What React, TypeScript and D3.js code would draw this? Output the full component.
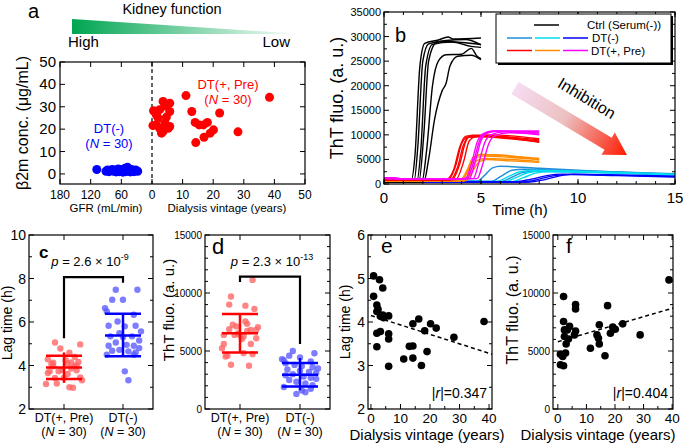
import React, { useEffect, useRef } from 'react';
import * as d3 from 'd3';

const FONT = '"Liberation Sans", Arial, Helvetica, sans-serif';

// ---- panel a: beta2m vs GFR / dialysis vintage
const gfrNeg = [108, 90, 87, 84, 81, 78, 75, 72, 70, 68, 66, 64, 62, 60, 58, 57, 55, 53, 52, 50, 48, 47, 45, 43, 42, 40, 38, 35, 32, 28];
const b2mNeg = [2.0, 1.2, 1.8, 1.0, 1.5, 2.0, 1.2, 1.7, 0.9, 1.5, 2.2, 1.0, 1.7, 1.3, 2.0, 0.8, 1.5, 2.5, 1.0, 1.8, 3.0, 1.2, 2.2, 1.6, 0.9, 2.0, 1.4, 1.0, 1.8, 1.2];
const vintagePre = [0.5, 0.3, 2, 2.5, 3.6, 4.2, 5.8, 5.8, 3.1, 2.5, 1.4, 5.8, 4.7, 4.2, 11.1, 13, 14.1, 14.3, 15.4, 16.8, 18.1, 17, 19, 20.1, 22.1, 28.1, 38.4, 1.4, 5.3, 3.6];
const b2mPre = [28.2, 21.6, 25, 28.7, 32.4, 30.4, 31.6, 27.9, 18.2, 20.4, 21.9, 21.2, 25.4, 22.7, 35, 27.9, 23, 14, 21.9, 21.9, 23, 16.4, 18.2, 19.7, 27.2, 18.8, 34.2, 26.4, 20.4, 18.9];
const gfrTicks = [180, 120, 60];
const vinTicksA = [0, 10, 20, 30, 40, 50];
const b2mTicks = [0, 10, 20, 30, 40, 50];

// ---- panel b: ThT kinetics, [time h, fluo]
const ctrlCurves = [
  [[0, 700], [1.4, 700], [1.6, 6000], [1.85, 24000], [2.1, 28600], [2.8, 29300], [3.3, 29900], [3.6, 29500], [5, 29700]],
  [[0, 600], [1.55, 600], [1.75, 8000], [2.0, 25000], [2.3, 28500], [3.0, 29000], [4.0, 28800], [5, 28400]],
  [[0, 600], [1.7, 600], [1.9, 7000], [2.15, 24000], [2.5, 28400], [3.5, 28900], [4.5, 28000], [5, 27800]],
  [[0, 500], [1.8, 500], [2.05, 10000], [2.3, 25000], [2.7, 28800], [3.2, 29200], [4.2, 29400], [5, 28300]],
  [[0, 400], [1.95, 400], [2.2, 7000], [2.5, 20000], [2.8, 25000], [3.2, 26300], [4, 26400], [4.5, 27600], [4.8, 26000], [5, 25500]],
  [[0, 400], [2.05, 400], [2.3, 5000], [2.6, 13000], [3.0, 19000], [3.2, 20500], [3.4, 24000], [3.8, 26000], [4.5, 26200], [5, 25300]],
];
const redCurves = [
  [[0, 900], [3.2, 900], [3.6, 3000], [3.9, 7500], [4.2, 9700], [4.6, 9900], [6, 9700], [8, 9000]],
  [[0, 800], [3.4, 800], [3.8, 3500], [4.1, 8000], [4.4, 9600], [5, 9800], [6.5, 9400], [8, 8500]],
  [[0, 850], [3.5, 850], [3.9, 4000], [4.2, 8500], [4.5, 9900], [5.5, 10000], [8, 9200]],
  [[0, 900], [3.7, 900], [4.1, 4500], [4.4, 8800], [4.8, 9700], [6, 9500], [8, 8800]],
  [[0, 800], [3.3, 800], [3.7, 3800], [4.0, 8200], [4.3, 9500], [5, 9600], [6.5, 9200], [8, 8600]],
];
const orangeCurves = [
  [[0, 700], [3.9, 700], [4.3, 3000], [4.6, 5500], [5, 6000], [6, 5800], [8, 5200]],
  [[0, 650], [4.0, 650], [4.4, 3200], [4.7, 5200], [5.1, 5700], [6.5, 5400], [8, 5000]],
  [[0, 600], [4.1, 600], [4.5, 3000], [4.8, 4800], [5.2, 5200], [6.5, 5000], [8, 4600]],
  [[0, 650], [4.2, 650], [4.6, 2800], [4.9, 4500], [5.3, 5000], [6.5, 4700], [8, 4400]],
  [[0, 700], [4.0, 700], [4.4, 3500], [4.7, 5600], [5, 6000], [6, 5900], [8, 4900]],
];
const magentaCurves = [
  [[0, 1300], [0.5, 1300], [1, 1000], [3, 1000], [4.2, 1100], [4.5, 4000], [4.8, 8500], [5.1, 10200], [5.6, 10800], [8, 10600]],
  [[0, 1200], [0.5, 1250], [1, 1000], [3, 950], [4.4, 1100], [4.7, 4500], [5.0, 8800], [5.3, 10300], [5.8, 10700], [8, 10400]],
  [[0, 1100], [1, 1000], [3, 950], [4.6, 1100], [4.9, 4500], [5.2, 8500], [5.5, 10000], [6.2, 10600], [8, 10000]],
  [[0, 1150], [1, 1000], [3, 1000], [4.8, 1100], [5.1, 4200], [5.4, 8200], [5.7, 9800], [6.4, 10400], [8, 10200]],
  [[0, 1250], [1, 1050], [3, 1000], [4.3, 1200], [4.6, 4200], [4.9, 8500], [5.2, 10200], [5.7, 10800], [8, 10800]],
];
const steelCurves = [
  [[0, 600], [4.8, 600], [5.2, 1800], [5.6, 3300], [6, 3600], [8, 3200], [11, 2600], [15, 2000]],
  [[0, 500], [5.5, 500], [6.0, 1500], [6.6, 2800], [7.2, 3000], [10, 2700], [15, 2100]],
  [[0, 500], [6, 500], [6.6, 1400], [7.2, 2400], [8, 2600], [11, 2400], [15, 1900]],
];
const cyanCurves = [
  [[0, 500], [5.8, 500], [6.4, 1500], [7, 2500], [7.8, 2800], [10, 2600], [15, 2000]],
  [[0, 450], [6.2, 450], [6.8, 1300], [7.4, 2300], [8.2, 2700], [11, 2400], [15, 1900]],
  [[0, 450], [6.5, 450], [7.2, 1300], [7.8, 2200], [8.5, 2500], [12, 2200], [15, 1800]],
];
const blueCurves = [
  [[0, 450], [6.8, 450], [7.6, 1000], [8.4, 1700], [9.2, 2000], [12, 1800], [15, 1500]],
  [[0, 400], [7.2, 400], [8.0, 1000], [8.8, 1700], [9.6, 1900], [12, 1700], [15, 1400]],
  [[0, 400], [7.5, 400], [8.3, 900], [9.0, 1600], [9.8, 2000], [12.5, 1800], [15, 1600]],
];
const timeTicks = [0, 5, 10, 15];
const thtTicksB = [0, 5000, 10000, 15000, 20000, 25000, 30000, 35000];

// ---- panels c-f
const groups = ['DT(+, Pre)', 'DT(-)'];
const lagYears = [0.9, 0.9, 2.9, 4.0, 2.0, 2.4, 2.0, 3.2, 4.0, 6.0, 2.0, 3.2, 6.0, 6.0, 2.0, 6.0, 11.1, 13.0, 14.2, 14.2, 14.2, 16.2, 17.1, 18.2, 19.0, 20.2, 22.1, 28.1, 38.3, 4.3];
const lagPre = [5.06, 4.59, 4.97, 4.78, 4.39, 4.29, 4.24, 4.13, 4.16, 4.14, 3.74, 3.78, 3.73, 3.61, 3.43, 2.98, 3.15, 3.44, 3.45, 3.17, 3.96, 4.07, 3.0, 3.8, 3.32, 3.96, 3.86, 3.65, 4.01, 4.1];
const lagNeg = [7.48, 7.48, 7.02, 7.02, 6.64, 6.48, 6.33, 5.83, 6.02, 5.8, 5.83, 5.57, 5.34, 5.31, 5.34, 5.15, 5.06, 4.91, 4.95, 4.91, 4.8, 4.68, 4.72, 4.65, 4.6, 4.5, 4.5, 3.73, 3.32, 5.49];
const thtYears = [2, 2, 2.3, 4.1, 3.3, 2.9, 3.7, 6.2, 6.2, 6.2, 5.8, 0.9, 1.7, 2.7, 0.9, 2, 11.4, 13.7, 14.2, 14.5, 14.5, 16.5, 17.4, 18.4, 19.2, 20.1, 22.7, 28.8, 38.9, 2.3];
const thtPre = [9700, 7540, 6820, 7120, 6820, 5600, 6030, 9000, 8630, 6730, 6390, 4730, 4530, 4820, 3810, 3730, 5240, 6390, 6100, 7260, 5600, 4590, 8910, 6530, 7060, 6880, 7340, 6390, 11130, 6250];
const thtNeg = [5000, 4800, 4600, 4450, 4300, 4200, 4100, 3950, 3800, 3700, 3600, 3500, 3400, 3300, 3200, 3100, 3000, 2900, 2800, 2700, 2600, 2500, 2350, 2200, 2050, 1900, 1750, 1600, 1450, 1300];
// horizontal scatter, fraction of half width
const jitterPre = [-0.5, 0.3, 0.9, -0.2, 0.6, -0.9, 0.1, -0.6, 0.8, 0.4, -0.3, 0.7, -0.8, 0.2, -0.5, 0.5, -1.0, 0.0, 0.9, -0.4, 0.6, -0.7, 0.3, -0.1, 1.0, -0.6, 0.4, -0.9, 0.7, 0.2];
const jitterNeg = [-0.4, 0.8, -0.6, 0.0, -1.0, -0.9, 0.6, -0.8, -0.3, 0.1, 0.7, 1.0, -0.7, 0.0, 0.5, 0.9, -0.4, -0.8, 0.2, 0.6, 0.9, -0.6, -0.2, 0.3, 0.7, -0.9, 0.6, 0.1, 0.3, -0.2];
// [mean - SD, mean, mean + SD], whisker [low, high]
const lagBars = [[3.38, 3.91, 4.45], [4.42, 5.38, 6.38]];
const lagWhisk = [[3.2, 4.6], [4.42, 6.38]];
const thtBars = [[4880, 6540, 8200], [1950, 2950, 3960]];
const thtWhisk = [[4880, 8200], [1610, 4390]];
const lagFit = [[0, 4.15], [41, 3.26]];
const thtFit = [[0, 5800], [40.3, 8700]];
const vinTicks = [0, 10, 20, 30, 40];
const lagTicksC = [2, 4, 6, 8, 10];
const lagTicksE = [2, 3, 4, 5, 6];
const thtTicks = [0, 5000, 10000, 15000];

const RED = '#ff0000';
const BLUE = '#0000ff';

type Box = { l: number; r: number; t: number; b: number };

function frame(g: any, box: Box, xt: number[], yt: number[], xm: number[] = [], ym: number[] = [], L = 5, M = 3) {
  g.append('rect')
    .attr('x', box.l).attr('y', box.t)
    .attr('width', box.r - box.l).attr('height', box.b - box.t)
    .attr('fill', 'none').attr('stroke', '#000').attr('stroke-width', 1.2);
  const tick = (x1: number, y1: number, x2: number, y2: number) =>
    g.append('line').attr('x1', x1).attr('y1', y1).attr('x2', x2).attr('y2', y2)
      .attr('stroke', '#000').attr('stroke-width', 1);
  xt.forEach(p => { tick(p, box.b, p, box.b - L); tick(p, box.t, p, box.t + L); });
  xm.forEach(p => { tick(p, box.b, p, box.b - M); tick(p, box.t, p, box.t + M); });
  yt.forEach(p => { tick(box.l, p, box.l + L, p); tick(box.r, p, box.r - L, p); });
  ym.forEach(p => { tick(box.l, p, box.l + M, p); tick(box.r, p, box.r - M, p); });
}

function txt(g: any, x: number, y: number, s: string, size: number, anchor = 'middle', fill = '#000') {
  return g.append('text')
    .attr('x', x).attr('y', y)
    .attr('font-family', FONT).attr('font-size', size)
    .attr('text-anchor', anchor).attr('fill', fill)
    .text(s);
}

function vlabel(g: any, x: number, y: number, s: string, size: number) {
  return g.append('text')
    .attr('transform', `translate(${x},${y}) rotate(-90)`)
    .attr('font-family', FONT).attr('font-size', size)
    .attr('text-anchor', 'middle').text(s);
}

function nLabel(g: any, x: number, y: number, size: number, fill = '#000') {
  const t = g.append('text').attr('x', x).attr('y', y)
    .attr('font-family', FONT).attr('font-size', size)
    .attr('text-anchor', 'middle').attr('fill', fill);
  t.append('tspan').text('(');
  t.append('tspan').attr('font-style', 'italic').text('N');
  t.append('tspan').text(' = 30)');
  return t;
}

function pLabel(g: any, x: number, y: number, mant: string, exp: string) {
  const t = g.append('text').attr('x', x).attr('y', y)
    .attr('font-family', FONT).attr('font-size', 13).attr('text-anchor', 'middle');
  t.append('tspan').attr('font-style', 'italic').text('p');
  t.append('tspan').text(` = ${mant} \u00d7 10`);
  t.append('tspan').attr('font-size', 9).attr('dy', -6).text(exp);
}

const App = () => {
  const svgRef = useRef<SVGSVGElement>(null);

  useEffect(() => {
    const svg = d3.select(svgRef.current);
    svg.selectAll('*').remove();
    const defs = svg.append('defs');

    // ================= panel a =================
    const a = svg.append('g');
    const aBox = { l: 60, r: 305, t: 62, b: 184 };
    const yA = d3.scaleLinear().domain([-4.5, 50]).range([aBox.b, aBox.t]);
    const xGfr = d3.scaleLinear().domain([180, 0]).range([aBox.l, 152]);
    const xVin = d3.scaleLinear().domain([0, 50]).range([152, aBox.r]);

    const kg = defs.append('linearGradient').attr('id', 'kidney')
      .attr('x1', '0%').attr('x2', '100%').attr('y1', '0%').attr('y2', '0%');
    kg.append('stop').attr('offset', '0%').attr('stop-color', '#00a651');
    kg.append('stop').attr('offset', '100%').attr('stop-color', '#ffffff');
    a.append('path').attr('d', 'M72,19 L303,34 L72,34 Z').attr('fill', 'url(#kidney)');
    txt(a, 172, 13.5, 'Kidney function', 14.5);
    txt(a, 68, 47, 'High', 15, 'start');
    txt(a, 290, 47, 'Low', 15, 'end');
    txt(a, 28, 18, 'a', 20, 'start');

    frame(a, aBox,
      [...gfrTicks.map(v => xGfr(v)), ...vinTicksA.map(v => xVin(v))],
      b2mTicks.map(v => yA(v)));
    a.append('line').attr('x1', xVin(0)).attr('x2', xVin(0)).attr('y1', aBox.t).attr('y2', aBox.b)
      .attr('stroke', '#000').attr('stroke-width', 1.2).attr('stroke-dasharray', '4,3');
    b2mTicks.forEach(v => txt(a, 56, yA(v) + 5, String(v), 15, 'end'));
    gfrTicks.forEach(v => txt(a, xGfr(v), 199, String(v), 12));
    vinTicksA.forEach(v => txt(a, xVin(v), 199, String(v), 12));
    txt(a, xGfr(90), 212, 'GFR (mL/min)', 11.5);
    txt(a, xVin(24.5), 212, 'Dialysis vintage (years)', 11.5);
    vlabel(a, 28, 123, '\u03b22m conc. (\u03bcg/mL)', 16);

    a.selectAll('.bneg').data(gfrNeg).enter().append('circle')
      .attr('cx', (d: number) => xGfr(d)).attr('cy', (_: number, i: number) => yA(b2mNeg[i]))
      .attr('r', 4.5).attr('fill', BLUE);
    a.selectAll('.bpre').data(vintagePre).enter().append('circle')
      .attr('cx', (d: number) => xVin(d)).attr('cy', (_: number, i: number) => yA(b2mPre[i]))
      .attr('r', 4.5).attr('fill', RED);
    txt(a, 109, 133, 'DT(-)', 13, 'middle', BLUE);
    nLabel(a, 109, 148, 13, BLUE);
    txt(a, 228, 89, 'DT(+, Pre)', 13, 'middle', RED);
    nLabel(a, 228, 104, 13, RED);

    // ================= panel b =================
    const b = svg.append('g');
    const bBox = { l: 384, r: 675, t: 12, b: 184 };
    const xB = d3.scaleLinear().domain([0, 15]).range([bBox.l, bBox.r]);
    const yB = d3.scaleLinear().domain([0, 35000]).range([bBox.b, bBox.t]);
    defs.append('clipPath').attr('id', 'clipB').append('rect')
      .attr('x', bBox.l).attr('y', bBox.t).attr('width', bBox.r - bBox.l).attr('height', bBox.b - bBox.t);
    const line = d3.line<number[]>().x(d => xB(d[0])).y(d => yB(d[1])).curve(d3.curveMonotoneX);
    const curves = b.append('g').attr('clip-path', 'url(#clipB)');
    const groupsB: [number[][][], string][] = [
      [steelCurves, '#1f8fd8'], [cyanCurves, '#00dcf0'], [blueCurves, '#0000ff'],
      [ctrlCurves, '#000000'], [orangeCurves, '#ff8c00'], [redCurves, '#ff0000'], [magentaCurves, '#ff00ff'],
    ];
    groupsB.forEach(([set, color]) => {
      set.forEach(c => curves.append('path').attr('d', line(c as any)).attr('fill', 'none')
        .attr('stroke', color).attr('stroke-width', 1.4));
    });

    frame(b, bBox, timeTicks.map(v => xB(v)), thtTicksB.map(v => yB(v)),
      d3.range(0, 16).map(v => xB(v)), d3.range(2500, 35000, 5000).map(v => yB(v)));
    thtTicksB.forEach(v => txt(b, 381, yB(v) + 4, String(v), 11, 'end'));
    timeTicks.forEach(v => txt(b, xB(v), 203, String(v), 15));
    txt(b, 520, 215, 'Time (h)', 15);
    vlabel(b, 343, 98, 'ThT fluo. (a. u.)', 18);
    txt(b, 395, 42, 'b', 20, 'start');

    // legend
    b.append('rect').attr('x', 498).attr('y', 16).attr('width', 175).attr('height', 49).attr('fill', '#000');
    b.append('rect').attr('x', 496).attr('y', 14).attr('width', 175).attr('height', 49)
      .attr('fill', '#fff').attr('stroke', '#000').attr('stroke-width', 1);
    const leg = (y: number, cols: string[], label: string, tx: number) => {
      cols.forEach((c, i) => {
        const x0 = cols.length === 1 ? 534 : 507 + i * 28;
        b.append('line').attr('x1', x0).attr('x2', x0 + 25).attr('y1', y).attr('y2', y)
          .attr('stroke', c).attr('stroke-width', 1.5);
      });
      txt(b, tx, y + 4, label, 11.5, 'start');
    };
    leg(25, ['#000'], 'Ctrl (Serum(-))', 587);
    leg(38, ['#1f8fd8', '#00dcf0', '#0000ff'], 'DT(-)', 592);
    leg(50.5, ['#ff0000', '#ff8c00', '#ff00ff'], 'DT(+, Pre)', 591);

    // inhibition arrow
    const S = [515, 88], T = [627, 155];
    const len = Math.hypot(T[0] - S[0], T[1] - S[1]);
    const u = [(T[0] - S[0]) / len, (T[1] - S[1]) / len];
    const n = [-u[1], u[0]];
    const Hd = [T[0] - u[0] * 22, T[1] - u[1] * 22];
    const pt = (p: number[], k: number) => [p[0] + n[0] * k, p[1] + n[1] * k];
    const arrow = [pt(S, 7), pt(Hd, 7), pt(Hd, 13), T, pt(Hd, -13), pt(Hd, -7), pt(S, -7)];
    const ag = defs.append('linearGradient').attr('id', 'inhib').attr('gradientUnits', 'userSpaceOnUse')
      .attr('x1', S[0]).attr('y1', S[1]).attr('x2', T[0]).attr('y2', T[1]);
    ag.append('stop').attr('offset', '0%').attr('stop-color', '#f6dcf2');
    ag.append('stop').attr('offset', '45%').attr('stop-color', '#ecc0c0');
    ag.append('stop').attr('offset', '100%').attr('stop-color', '#ff1a00');
    b.append('path').attr('d', 'M' + arrow.map(p => p.join(',')).join('L') + 'Z').attr('fill', 'url(#inhib)');
    b.append('text').attr('transform', `translate(584,103) rotate(${(Math.atan2(u[1], u[0]) * 180) / Math.PI})`)
      .attr('font-family', FONT).attr('font-size', 16).attr('text-anchor', 'middle').text('Inhibition');

    // ================= panels c, d =================
    const dotPanel = (
      box: Box, y: d3.ScaleLinear<number, number>, vals: number[][], bars: number[][], whisk: number[][],
      yt: number[], ym: number[], tickSize: number, bracket: number[], pM: string, pE: string, pX: number
    ) => {
      const g = svg.append('g');
      const x = d3.scalePoint().domain(groups).range([box.l + 35, box.r - 30]);
      const xs = groups.map(k => x(k) as number);
      const jit = [jitterPre, jitterNeg];
      const fills = ['#ff6666', '#5c5cff'];
      const cols = [RED, BLUE];
      vals.forEach((arr, gi) => {
        g.selectAll(null).data(arr).enter().append('circle')
          .attr('cx', (_: number, i: number) => xs[gi] + jit[gi][i] * 18)
          .attr('cy', (d: number) => y(d)).attr('r', 3.2)
          .attr('fill', fills[gi]).attr('fill-opacity', 0.8);
      });
      bars.forEach((bs, gi) => {
        bs.forEach(v => g.append('line').attr('x1', xs[gi] - 18).attr('x2', xs[gi] + 18)
          .attr('y1', y(v)).attr('y2', y(v)).attr('stroke', cols[gi]).attr('stroke-width', 2.5));
        g.append('line').attr('x1', xs[gi]).attr('x2', xs[gi])
          .attr('y1', y(whisk[gi][0])).attr('y2', y(whisk[gi][1])).attr('stroke', cols[gi]).attr('stroke-width', 2.5);
      });
      g.append('path')
        .attr('d', `M${xs[0]},${y(bracket[0])}V${y(bracket[1])}H${xs[1]}V${y(bracket[2])}`)
        .attr('fill', 'none').attr('stroke', '#000').attr('stroke-width', 2.2);
      frame(g, box, xs, yt.map(v => y(v)), [], ym.map(v => y(v)));
      yt.forEach(v => txt(g, box.l - 3, y(v) + tickSize * 0.36, String(v), tickSize, 'end'));
      groups.forEach((k, i) => {
        txt(g, xs[i], 422, k, 12.5);
        nLabel(g, xs[i], 436, 12.5);
      });
      pLabel(g, pX, 266, pM, pE);
      return g;
    };

    const cBox = { l: 29, r: 153, t: 235, b: 409 };
    const yC = d3.scaleLinear().domain([2, 10]).range([cBox.b, cBox.t]);
    const c = dotPanel(cBox, yC, [lagPre, lagNeg], lagBars, lagWhisk, lagTicksC, [3, 5, 7, 9], 14,
      [5.25, 8.06, 7.8], '2.6', '-9', 90);
    c.append('text').attr('x', 39).attr('y', 258).attr('font-family', FONT).attr('font-size', 17)
      .attr('font-weight', 'bold').text('c');
    vlabel(c, 12, 323, 'Lag time (h)', 14);

    const dBox = { l: 205, r: 330, t: 235, b: 409 };
    const yD = d3.scaleLinear().domain([0, 15000]).range([dBox.b, dBox.t]);
    const dMinor = d3.range(1000, 15000, 1000).filter(v => v % 5000 !== 0);
    const d = dotPanel(dBox, yD, [thtPre, thtNeg], thtBars, thtWhisk, thtTicks, dMinor, 10,
      [10950, 11420, 5600], '2.3', '-13', 272);
    txt(d, 212, 254, 'd', 22, 'start');
    vlabel(d, 174, 310, 'ThT fluo. (a. u.)', 15);

    // ================= panels e, f =================
    const scatter = (
      box: Box, xDom: number[], y: d3.ScaleLinear<number, number>, xs: number[], ys: number[],
      fit: number[][], yt: number[], ym: number[], ytSize: number, r: string, letter: string, labelX: number
    ) => {
      const g = svg.append('g');
      const x = d3.scaleLinear().domain(xDom).range([box.l, box.r]);
      g.append('path').attr('d', d3.line<number[]>().x(p => x(p[0])).y(p => y(p[1]))(fit as any))
        .attr('fill', 'none').attr('stroke', '#000').attr('stroke-width', 1.5).attr('stroke-dasharray', '4,3');
      g.selectAll(null).data(xs).enter().append('circle')
        .attr('cx', (v: number) => x(v)).attr('cy', (_: number, i: number) => y(ys[i]))
        .attr('r', 3.8).attr('fill', '#000');
      frame(g, box, vinTicks.map(v => x(v)), yt.map(v => y(v)),
        [5, 15, 25, 35].map(v => x(v)), ym.map(v => y(v)));
      vinTicks.forEach(v => txt(g, x(v), 423, String(v), 13.5));
      txt(g, labelX, 440, 'Dialysis vintage (years)', 15);
      yt.forEach(v => txt(g, box.l - 3, y(v) + ytSize * 0.36, String(v), ytSize, 'end'));
      const rt = g.append('text').attr('x', box.r - 5).attr('y', 398)
        .attr('font-family', FONT).attr('font-size', 14).attr('text-anchor', 'end');
      rt.append('tspan').text('|');
      rt.append('tspan').attr('font-style', 'italic').text('r');
      rt.append('tspan').text(`|=${r}`);
      txt(g, box.l + 13, 253, letter, 21, 'start');
      return g;
    };

    const eBox = { l: 368, r: 492, t: 235, b: 409 };
    const yE = d3.scaleLinear().domain([2, 6]).range([eBox.b, eBox.t]);
    const e = scatter(eBox, [-1, 41], yE, lagYears, lagPre, lagFit, lagTicksE, [2.5, 3.5, 4.5, 5.5], 14, '0.347', 'e', 427);
    vlabel(e, 350, 322, 'Lag time (h)', 14);

    const fBox = { l: 553, r: 673, t: 235, b: 409 };
    const yF = d3.scaleLinear().domain([0, 15000]).range([fBox.b, fBox.t]);
    const f = scatter(fBox, [-1.7, 40.3], yF, thtYears, thtPre, thtFit, thtTicks, dMinor, 10, '0.404', 'f', 598);
    vlabel(f, 518, 310, 'ThT fluo. (a. u.)', 16);
  }, []);

  return (
    <svg
      ref={svgRef}
      width={685}
      height={443}
      style={{ position: 'absolute', left: 0, top: 0, background: '#fff' }}
    ></svg>
  );
};

export default App;
